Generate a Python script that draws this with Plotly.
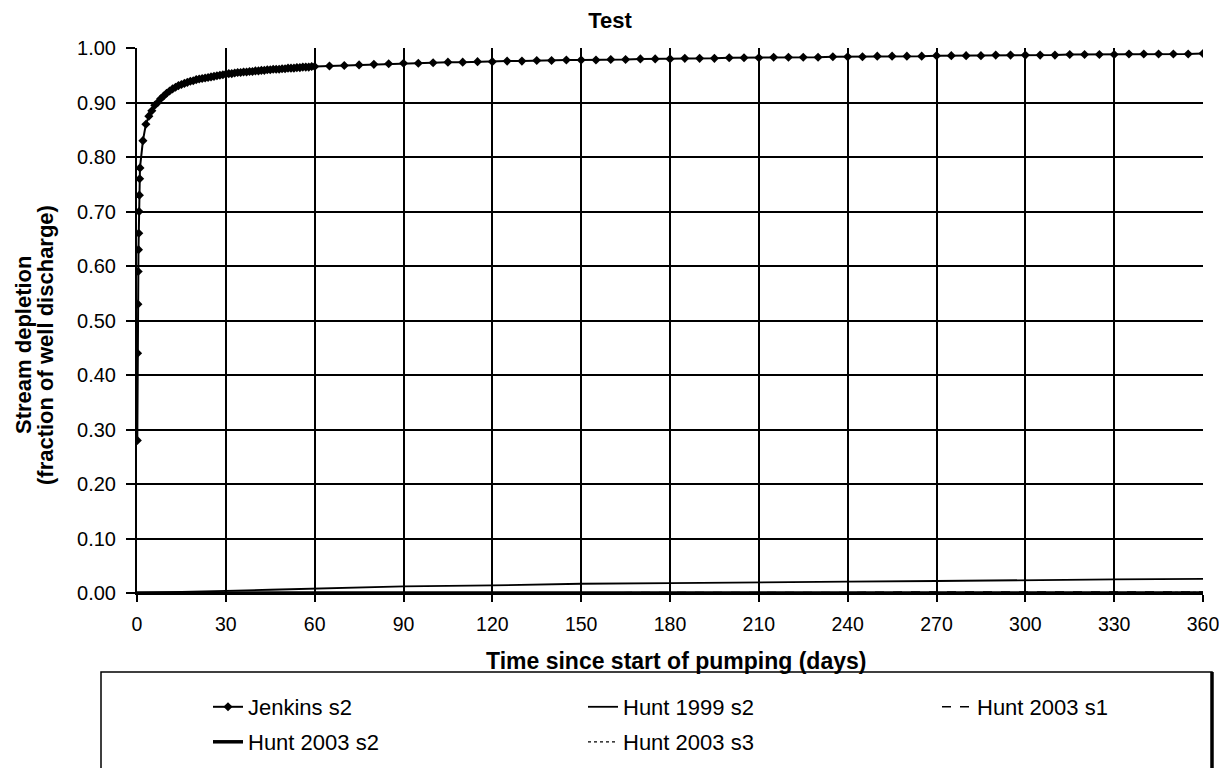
import plotly.graph_objects as go

# ---------------- data ----------------
jenkins_days = [0.1, 0.2, 0.3, 0.4, 0.5, 0.6, 0.7, 0.8, 0.9, 1,
                2, 3, 4, 5, 6, 7, 8, 9, 10, 11, 12, 13, 14, 15, 16, 17, 18, 19, 20,
                21, 22, 23, 24, 25, 26, 27, 28, 29, 30, 31, 32, 33, 34, 35, 36, 37, 38, 39, 40,
                41, 42, 43, 44, 45, 46, 47, 48, 49, 50, 51, 52, 53, 54, 55, 56, 57, 58, 59, 60,
                65, 70, 75, 80, 85, 90, 95, 100, 105, 110, 115, 120, 125, 130, 135, 140,
                145, 150, 155, 160, 165, 170, 175, 180, 185, 190, 195, 200, 205, 210,
                215, 220, 225, 230, 235, 240, 245, 250, 255, 260, 265, 270, 275, 280,
                285, 290, 295, 300, 305, 310, 315, 320, 325, 330, 335, 340, 345, 350,
                355, 360]
jenkins_s2 = [0.28, 0.44, 0.53, 0.59, 0.63, 0.66, 0.70, 0.73, 0.76, 0.78,
              0.83, 0.86, 0.875, 0.885, 0.895, 0.900, 0.907, 0.912, 0.917, 0.921,
              0.925, 0.928, 0.931, 0.933, 0.935, 0.937, 0.939, 0.940, 0.942,
              0.943, 0.944, 0.945, 0.946, 0.947, 0.948, 0.949, 0.950, 0.951, 0.952,
              0.953, 0.953, 0.954, 0.955, 0.955, 0.956, 0.956, 0.957, 0.957, 0.958,
              0.958, 0.959, 0.959, 0.960, 0.960, 0.961, 0.961, 0.961, 0.962, 0.962,
              0.963, 0.963, 0.963, 0.964, 0.964, 0.965, 0.965, 0.965, 0.966, 0.966,
              0.967, 0.968, 0.969, 0.970, 0.971, 0.972, 0.972, 0.973, 0.974, 0.974,
              0.975, 0.975, 0.976, 0.976, 0.977, 0.977, 0.978, 0.978, 0.978, 0.979,
              0.979, 0.980, 0.980, 0.980, 0.981, 0.981, 0.981, 0.982, 0.982, 0.982,
              0.983, 0.983, 0.983, 0.983, 0.984, 0.984, 0.984, 0.985, 0.985, 0.985,
              0.985, 0.986, 0.986, 0.986, 0.986, 0.987, 0.987, 0.987, 0.987, 0.987,
              0.988, 0.988, 0.988, 0.988, 0.989, 0.989, 0.989, 0.989, 0.989, 0.990]

hunt_days = [0, 10, 20, 30, 45, 60, 90, 120, 150, 180, 210, 240, 270, 300, 330, 360]
hunt1999_s2 = [0.000, 0.001, 0.003, 0.004, 0.006, 0.008, 0.012, 0.014, 0.017, 0.018,
               0.020, 0.021, 0.022, 0.024, 0.025, 0.026]
hunt2003_s1 = [0.000, 0.000, 0.001, 0.001, 0.001, 0.001, 0.001, 0.001, 0.001, 0.001,
               0.001, 0.001, 0.002, 0.002, 0.002, 0.002]
hunt2003_s2 = [0.000, 0.000, 0.000, 0.000, 0.000, 0.000, 0.000, 0.000, 0.000, 0.000,
               0.000, 0.000, 0.000, 0.000, 0.000, 0.000]
hunt2003_s3 = [0.000, 0.000, 0.000, 0.001, 0.001, 0.001, 0.001, 0.001, 0.001, 0.001,
               0.001, 0.001, 0.001, 0.001, 0.001, 0.001]

x_ticks = [0, 30, 60, 90, 120, 150, 180, 210, 240, 270, 300, 330, 360]
y_ticks = [0.0, 0.1, 0.2, 0.3, 0.4, 0.5, 0.6, 0.7, 0.8, 0.9, 1.0]

title_text = "Test"
x_title = "Time since start of pumping (days)"
y_title_1 = "Stream depletion"
y_title_2 = "(fraction of well discharge)"

# ---------------- figure ----------------
FONT = "Liberation Sans, Arial, sans-serif"

# plot area in pixels: left 137, right 1203, top 48, bottom 593
W, H = 1219, 768
L, R, T, B = 137, 1203, 48, 593
pw, ph = R - L, B - T


def px(x):
    return (x - L) / pw


def py(y):
    return (B - y) / ph


fig = go.Figure()
fig.add_trace(go.Scatter(x=hunt_days, y=hunt2003_s2, name="Hunt 2003 s2", mode="lines",
                         line=dict(color="black", width=3.5), legend="legend4"))
fig.add_trace(go.Scatter(x=hunt_days, y=hunt2003_s3, name="Hunt 2003 s3", mode="lines",
                         line=dict(color="black", width=1.2, dash="dot"), legend="legend5"))
fig.add_trace(go.Scatter(x=hunt_days, y=hunt2003_s1, name="Hunt 2003 s1", mode="lines",
                         line=dict(color="black", width=1.5, dash="dash"), legend="legend3"))
fig.add_trace(go.Scatter(x=hunt_days, y=hunt1999_s2, name="Hunt 1999 s2", mode="lines",
                         line=dict(color="black", width=1.8), legend="legend2"))
fig.add_trace(go.Scatter(x=jenkins_days, y=jenkins_s2, name="Jenkins s2", mode="lines+markers",
                         line=dict(color="black", width=2),
                         marker=dict(symbol="diamond", size=7, color="black"),
                         legend="legend"))

LEG_FONT = 22
legend_common = dict(orientation="h", xanchor="left", yanchor="middle",
                     bgcolor="rgba(0,0,0,0)", borderwidth=0,
                     font=dict(size=LEG_FONT, family=FONT), itemwidth=30)
# text start pixel minus 40 = legend x
leg_pos = {"legend": (208, 707), "legend2": (583, 707), "legend3": (937, 707),
           "legend4": (208, 742), "legend5": (583, 742)}

fig.update_layout(
    width=W, height=H,
    margin=dict(l=L, r=W - R, t=T, b=H - B, pad=0, autoexpand=False),
    paper_bgcolor="white", plot_bgcolor="white",
    font=dict(family=FONT, color="black", size=20),
    showlegend=True,
    title=dict(text="<b>" + title_text + "</b>", x=610 / W, xanchor="center",
               y=1 - 20 / H, yanchor="middle", font=dict(size=22, family=FONT)),
    xaxis=dict(range=[0, 360], tickvals=x_ticks, ticktext=[str(v) for v in x_ticks],
               showgrid=True, gridcolor="black", gridwidth=1.5,
               showline=True, linecolor="black", linewidth=2,
               ticks="outside", ticklen=7, tickwidth=1.5, tickcolor="black",
               ticklabelstandoff=6, automargin=False, ticklabeloverflow="allow",
               zeroline=False, tickfont=dict(size=19.5, family=FONT)),
    yaxis=dict(range=[0, 1.0], tickvals=y_ticks, ticktext=["%.2f" % v for v in y_ticks],
               showgrid=True, gridcolor="black", gridwidth=1.5,
               showline=True, linecolor="black", linewidth=2,
               ticks="outside", ticklen=9, tickwidth=1.5, tickcolor="black",
               ticklabelstandoff=6, automargin=False, ticklabeloverflow="allow",
               zeroline=False, tickfont=dict(size=20, family=FONT)),
)
for name, (lx, ly) in leg_pos.items():
    fig.update_layout({name: dict(x=px(lx), y=py(ly), **legend_common)})

# x-axis title
fig.add_annotation(text="<b>" + x_title + "</b>", showarrow=False,
                   xref="paper", yref="paper", x=px(676), y=py(661),
                   xanchor="center", yanchor="middle",
                   font=dict(size=23, family=FONT, color="black"))

# y-axis title: two rotated lines
for txt, xpix in [(y_title_1, 23), (y_title_2, 45)]:
    fig.add_annotation(text="<b>" + txt + "</b>", textangle=-90, showarrow=False,
                       xref="paper", yref="paper", x=px(xpix), y=py(345),
                       xanchor="center", yanchor="middle",
                       font=dict(size=22, family=FONT, color="black"))

# legend frame (box extends past bottom edge, heavier right border)
fig.add_shape(type="rect", xref="paper", yref="paper",
              x0=px(101), x1=px(1212), y0=py(775), y1=py(672),
              line=dict(color="black", width=1.5), layer="above")
fig.add_shape(type="line", xref="paper", yref="paper",
              x0=px(1212), x1=px(1212), y0=py(775), y1=py(672),
              line=dict(color="black", width=3.5), layer="above")

fig.write_html("out.html", config={"displayModeBar": False},
               post_script="document.body.style.margin='0';document.body.style.padding='0';")
